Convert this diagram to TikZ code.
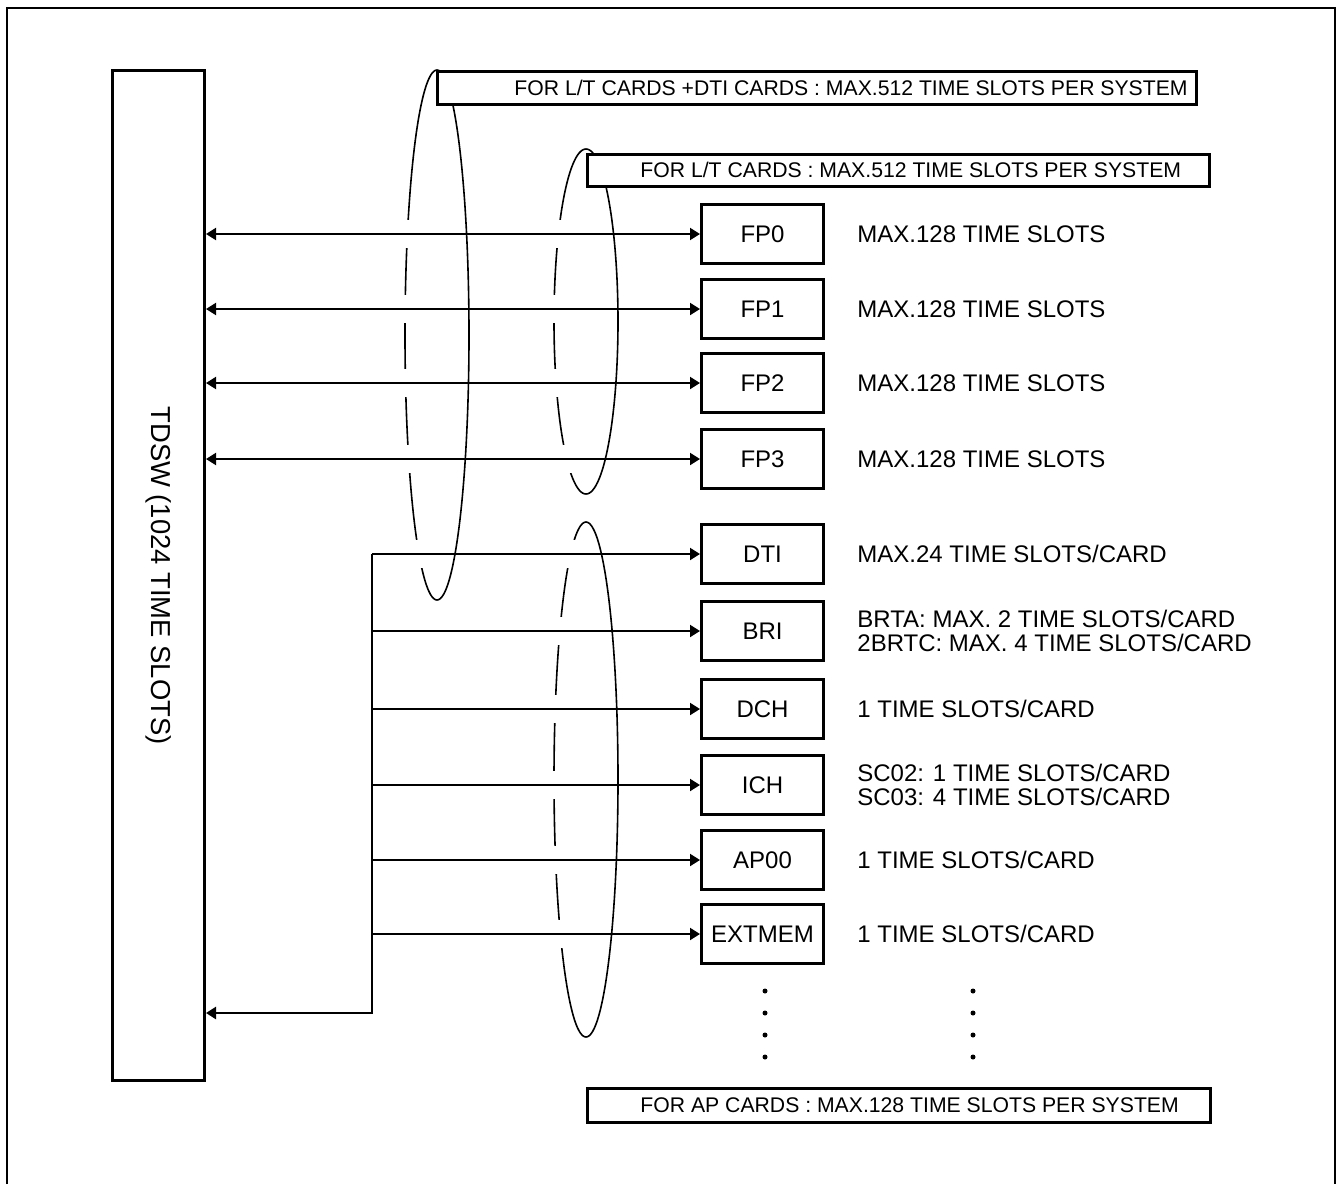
\documentclass[tikz,border=0pt]{standalone}
\usepackage{fontspec}
\setmainfont{Liberation Sans}
\usetikzlibrary{arrows.meta,positioning}

\tikzset{
  card/.style={draw, line width=1.5pt, minimum width=61pt, minimum height=29.5pt,
    inner sep=0pt, font=\fontsize{12}{12}\selectfont},
  desc/.style={anchor=west, inner sep=0pt, align=left, font=\fontsize{12}{12}\selectfont},
  limit/.style={draw, fill=white, line width=1.5pt},
  limittext/.style={anchor=west, inner sep=0pt, font=\fontsize{10.6}{12}\selectfont},
  lasso/.style={line width=0.8pt},
  link/.style={line width=1pt}
}

\begin{document}
\begin{tikzpicture}[x=0.5pt,y=-0.5pt,>={Triangle[length=5pt,width=6pt]}]
  \useasboundingbox (0,0) rectangle (1339,1184);
  % frame
  \draw[line width=1pt] (7,1184) -- (7,8) -- (1335,8) -- (1335,1184);

  % time division switch
  \node[draw, line width=1.5pt, minimum width=46pt, minimum height=505pt] (tdsw) at (158.5,575.5) {};
  \node[rotate=-90, font=\fontsize{13.7}{14}\selectfont] (tdswlabel) at (tdsw.center) {TDSW (1024 TIME SLOTS)};

  % cards
  \foreach \n/\t/\y in {fp0/FP0/234, fp1/FP1/309, fp2/FP2/383, fp3/FP3/459,
      dti/DTI/554, bri/BRI/631, dch/DCH/709, ich/ICH/785, ap/AP00/860, ext/EXTMEM/934}
    \node[card] (\n) at (762.5,\y) {\t};

  \foreach \n in {fp0,fp1,fp2,fp3}
    \node[desc, right=16pt of \n] (\n-d) {MAX.128 TIME SLOTS};
  \node[desc, right=16pt of dti] (dti-d) {MAX.24 TIME SLOTS/CARD};
  \node[desc, right=16pt of bri] (bri-d) {BRTA: MAX. 2 TIME SLOTS/CARD\\2BRTC: MAX. 4 TIME SLOTS/CARD};
  \node[desc, right=16pt of dch] (dch-d) {1 TIME SLOTS/CARD};
  \node[desc, right=16pt of ich] (ich-d) {SC02: 1 TIME SLOTS/CARD\\SC03: 4 TIME SLOTS/CARD};
  \node[desc, right=16pt of ap] (ap-d) {1 TIME SLOTS/CARD};
  \node[desc, right=16pt of ext] (ext-d) {1 TIME SLOTS/CARD};

  % back halves of the lassos, broken where the lines pass in front
  \draw[lasso] plot[smooth, domain=90:270, samples=61] ({437+32*cos(\x)},{335+265*sin(\x)});
  \draw[lasso] plot[smooth, domain=90:270, samples=61] ({586+32*cos(\x)},{321.5+172.5*sin(\x)});
  \draw[lasso] plot[smooth, domain=90:270, samples=61] ({586+32*cos(\x)},{779.5+257.5*sin(\x)});
  \foreach \y in {234,309,383,459,554}
    \fill[white] (398,\y-14) rectangle (435,\y+14);
  \foreach \y in {234,309,383,459,554,631,709,785,860,934}
    \fill[white] (547,\y-14) rectangle (584,\y+14);

  % links
  \foreach \n in {fp0,fp1,fp2,fp3}
    \draw[link,<->] (tdsw.east |- \n) -- (\n);
  \coordinate (bus) at (372,554);
  \coordinate (ret) at (372,1013);
  \foreach \n in {dti,bri,dch,ich,ap,ext}
    \draw[link,->] (bus |- \n) -- (\n);
  \draw[line width=1.25pt,->] (bus) -- (ret) -- (tdsw.east |- ret);

  % front halves of the lassos
  \draw[lasso] plot[smooth, domain=-90:90, samples=61] ({437+32*cos(\x)},{335+265*sin(\x)});
  \draw[lasso] plot[smooth, domain=-90:90, samples=61] ({586+32*cos(\x)},{321.5+172.5*sin(\x)});
  \draw[lasso] plot[smooth, domain=-90:90, samples=61] ({586+32*cos(\x)},{779.5+257.5*sin(\x)});

  % limits
  \path[limit] (437.5,71.5) rectangle (1196.5,104.5);
  \node[limittext] (ltdti) at (514,88) {FOR L/T CARDS +DTI CARDS : MAX.512 TIME SLOTS PER SYSTEM};
  \path[limit] (587.5,154.5) rectangle (1209.5,186.5);
  \node[limittext] (lt) at (640,170) {FOR L/T CARDS : MAX.512 TIME SLOTS PER SYSTEM};
  \path[limit] (587.5,1088.5) rectangle (1210.5,1122.5);
  \node[limittext] (apmax) at (640,1105.5) {FOR AP CARDS : MAX.128 TIME SLOTS PER SYSTEM};

  % more cards
  \foreach \y in {991,1013,1035,1057} {
    \fill (765,\y) circle (1.25pt);
    \fill (973,\y) circle (1.25pt);
  }
\end{tikzpicture}
\end{document}
